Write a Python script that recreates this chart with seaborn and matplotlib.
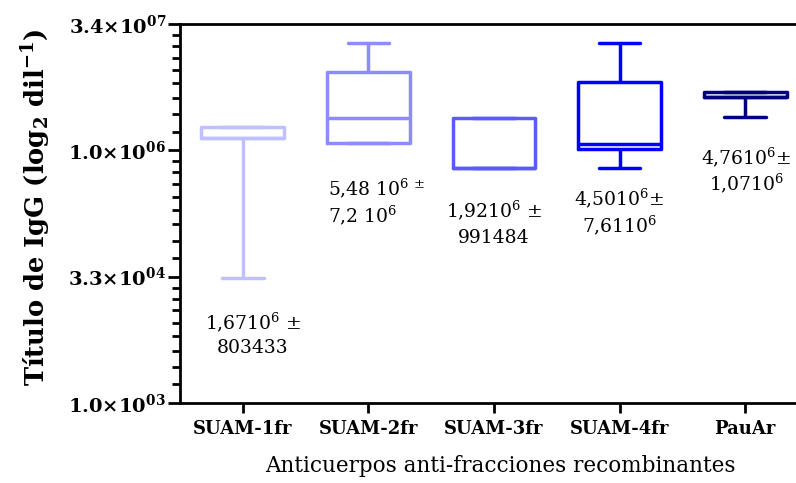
import numpy as np
import pandas as pd
import matplotlib
matplotlib.use("Agg")
import matplotlib.pyplot as plt
import seaborn as sns

# ---- data (log2 of IgG titre), five summary values per group: min, Q1, median, Q3, max
groups = ["SUAM-1fr", "SUAM-2fr", "SUAM-3fr", "SUAM-4fr", "PauAr"]
suam1 = [14.95, 20.49, 20.49, 20.94, 20.94]
suam2 = [20.29, 20.29, 21.28, 23.11, 24.26]
suam3 = [19.30, 19.30, 19.30, 21.28, 21.28]
suam4 = [19.30, 20.07, 20.26, 22.71, 24.26]
pauar = [21.31, 22.10, 22.10, 22.32, 22.32]
colors = ["#c0c0ff", "#8c8cff", "#5a5aff", "#0000ff", "#000080"]

ytick_vals = [10, 15, 20, 25]
ytick_labels = [r"$\mathbf{1.0{\times}10^{03}}$", r"$\mathbf{3.3{\times}10^{04}}$",
                r"$\mathbf{1.0{\times}10^{06}}$", r"$\mathbf{3.4{\times}10^{07}}$"]
minor_offsets = [0.74, 1.42, 2.07, 2.65, 3.17, 3.67, 4.13, 4.57]

notes = [
    ("1,6710$^{6}$ ±", "803433"),
    ("5,48 10$^{6}$$^{\\,\\pm}$", "7,2 10$^{6}$"),
    ("1,9210$^{6}$ ±", "991484"),
    ("4,5010$^{6}$±", "7,6110$^{6}$"),
    ("4,7610$^{6}$±", "1,0710$^{6}$"),
]

rows = []
for g, vals in zip(groups, [suam1, suam2, suam3, suam4, pauar]):
    for v in vals:
        rows.append({"grupo": g, "titulo": v})
df = pd.DataFrame(rows)

sns.set_style("white")
plt.rcParams["font.family"] = ["DejaVu Serif"]
plt.rcParams["mathtext.fontset"] = "dejavuserif"
for k in ["text.color", "axes.labelcolor", "xtick.color", "ytick.color"]:
    plt.rcParams[k] = "black"

W, H = 796, 483
fig = plt.figure(figsize=(W / 100, H / 100), dpi=100)
ax = fig.add_axes([180 / W, (H - 403) / H, (808 - 180) / W, 379 / H])

sns.boxplot(data=df, x="grupo", y="titulo", hue="grupo", palette=colors,
            order=groups, hue_order=groups, fill=False, whis=(0, 100),
            width=0.66, linewidth=2.5, legend=False, ax=ax)

ax.set_xlim(-0.5, 4.5)
ax.set_ylim(10, 25)

for s in ["left", "bottom", "top"]:
    ax.spines[s].set_visible(True)
    ax.spines[s].set_color("black")
    ax.spines[s].set_linewidth(2.0)
ax.spines["right"].set_visible(False)

ax.set_yticks(ytick_vals)
ax.set_yticklabels(ytick_labels, fontsize=14)
minors = [b + o for b in ytick_vals[:-1] for o in minor_offsets]
ax.set_yticks(minors, minor=True)
ax.tick_params(axis="y", which="major", length=9, width=2, pad=1, left=True, direction="out")
ax.tick_params(axis="y", which="minor", length=6, width=2, left=True, direction="out")

ax.set_xticks(range(len(groups)))
ax.set_xticklabels(groups, fontsize=13, fontweight="bold")
ax.tick_params(axis="x", which="major", length=7, width=2, pad=5, bottom=True, direction="out")
ax.set_xlabel("")
ax.set_ylabel("")

note_pos = [(0.08, 13.2, 12.18, "center"), (0.678, 18.51, 17.44, "left"),
            (2.0, 17.64, 16.53, "center"), (3.0, 18.11, 17.04, "center"),
            (4.01, 19.73, 18.71, "center")]
for (l1, l2), (xx, y1, y2, ha) in zip(notes, note_pos):
    ax.text(xx, y1, l1, ha=ha, va="center", fontsize=13.5, color="black")
    ax.text(xx, y2, l2, ha=ha, va="center", fontsize=13.5, color="black")

fig.text(36 / W, 1 - 207 / H, r"Título de IgG (log$_{\mathbf{2}}$ dil$^{\mathbf{-1}}$)",
         rotation=90, ha="center", va="center", fontsize=18.5, fontweight="bold")
fig.text(500 / W, 1 - 466 / H, "Anticuerpos anti-fracciones recombinantes",
         ha="center", va="center", fontsize=15.5)

fig.savefig("out.png", dpi=100)
